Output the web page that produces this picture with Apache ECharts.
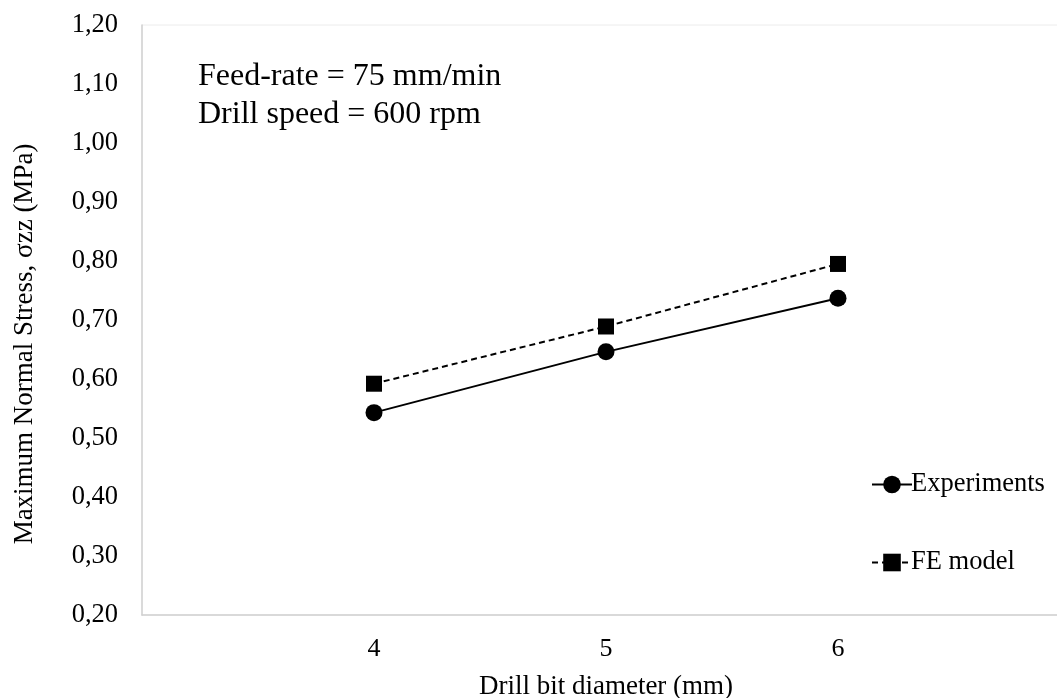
<!DOCTYPE html>
<html>
<head>
<meta charset="utf-8">
<script src="https://cdn.jsdelivr.net/npm/echarts@6/dist/echarts.min.js"></script>
<style>
  html, body { margin: 0; padding: 0; background: #fff; }
  #chart { width: 1057px; height: 698px; }
</style>
</head>
<body>
<div id="chart"></div>
<script>
// drill bit diameters (mm)
var diameters = [4, 5, 6];
// maximum normal stress (MPa)
var experiments = [0.543, 0.646, 0.737];
var feModel = [0.592, 0.689, 0.795];
var yTicks = { min: 0.2, max: 1.2, step: 0.1 };
var note = ['Feed-rate = 75 mm/min', 'Drill speed = 600 rpm'];

var font = 'Liberation Serif, Times New Roman, serif';

function pairs(xs, ys) {
  return xs.map(function (x, i) { return [x, ys[i]]; });
}

var chart = echarts.init(document.getElementById('chart'));
var option = {
  backgroundColor: '#fff',
  animation: false,
  title: {
    text: note.join('\n'),
    left: 193,
    top: 53,
    textStyle: { fontFamily: font, fontWeight: 'normal', fontSize: 32, lineHeight: 38, color: '#000' }
  },
  legend: {
    orient: 'vertical',
    left: 866,
    top: 466,
    itemWidth: 40,
    itemHeight: 22,
    itemGap: 51,
    data: ['Experiments', 'FE model'],
    textStyle: { fontFamily: font, fontSize: 26.5, color: '#000', padding: [0, 0, 0, -6] }
  },
  grid: {
    left: 142,
    width: 928,
    top: 25,
    bottom: 83,
    outerBoundsMode: 'none',
    containLabel: false,
    show: true,
    borderColor: '#ececec',
    borderWidth: 1
  },
  xAxis: {
    type: 'value',
    min: 3,
    max: 7,
    interval: 1,
    name: 'Drill bit diameter (mm)',
    nameLocation: 'middle',
    nameGap: 58,
    nameTextStyle: { fontFamily: font, fontSize: 27, color: '#000' },
    axisLine: { lineStyle: { color: '#d0d0d0', width: 1.5 } },
    axisTick: { show: false },
    splitLine: { show: false },
    axisLabel: {
      fontFamily: font, fontSize: 26, color: '#000', margin: 21,
      formatter: function (v) { return diameters.indexOf(v) >= 0 ? String(v) : ''; }
    }
  },
  yAxis: {
    type: 'value',
    min: yTicks.min,
    max: yTicks.max,
    interval: yTicks.step,
    name: 'Maximum Normal Stress, σzz (MPa)',
    nameLocation: 'middle',
    nameGap: 104,
    nameTextStyle: { fontFamily: font, fontSize: 27, color: '#000', padding: [0, 48, 0, 0] },
    axisLine: { show: true, lineStyle: { color: '#d0d0d0', width: 1.5 } },
    axisTick: { show: false },
    splitLine: { show: false },
    axisLabel: {
      fontFamily: font, fontSize: 26.5, color: '#000', margin: 24,
      formatter: function (v) { return v.toFixed(2).replace('.', ','); }
    }
  },
  series: [
    {
      name: 'Experiments',
      type: 'line',
      data: pairs(diameters, experiments),
      symbol: 'circle',
      symbolSize: 17,
      itemStyle: { color: '#000' },
      lineStyle: { color: '#000', width: 2 }
    },
    {
      name: 'FE model',
      type: 'line',
      data: pairs(diameters, feModel),
      symbol: 'rect',
      symbolSize: 16,
      itemStyle: { color: '#000' },
      lineStyle: { color: '#000', width: 2, type: [6, 4] }
    }
  ]
};
chart.setOption(option);
</script>
</body>
</html>
